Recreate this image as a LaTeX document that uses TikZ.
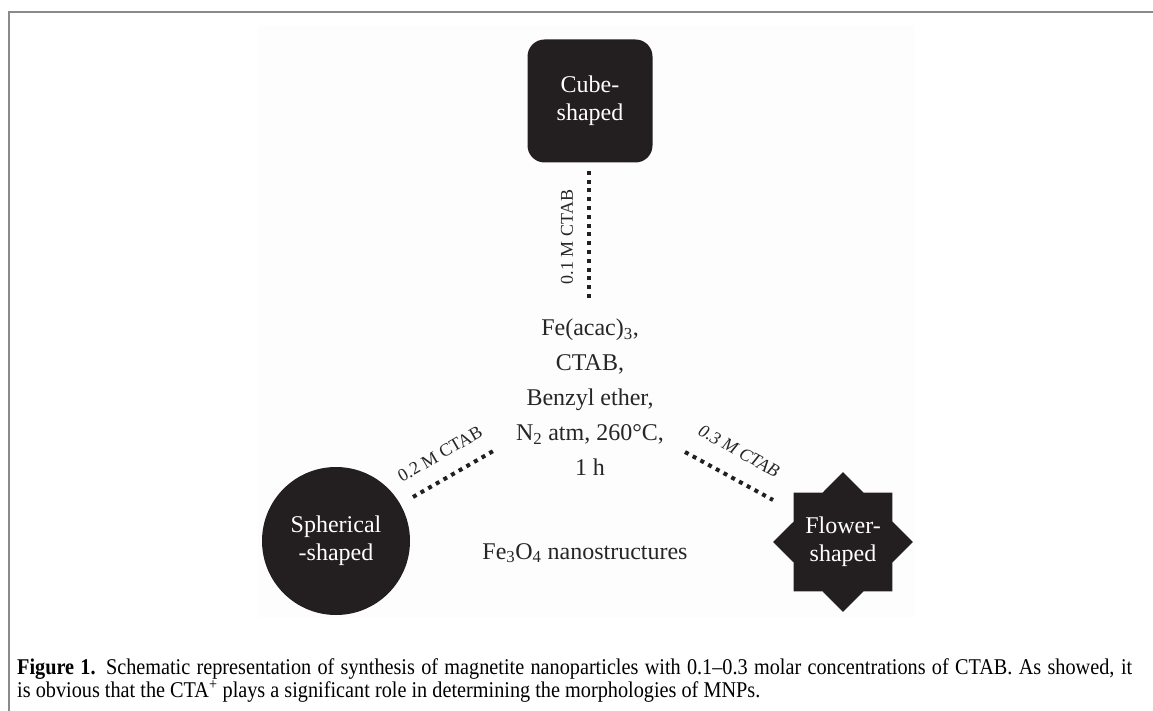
\documentclass[tikz,border=0pt]{standalone}
\usepackage{fontspec}
\setmainfont{Liberation Serif}
\newfontfamily\capfont[FakeStretch=0.9]{Liberation Serif}
\usetikzlibrary{shapes.geometric}

\definecolor{shapefill}{HTML}{231F20}
\definecolor{framegray}{HTML}{8A8A8A}

\begin{document}
\begin{tikzpicture}[x=1pt, y=-1pt,
    shapebox/.style={fill=shapefill, text=white, align=center, inner sep=0pt,
      font=\fontsize{24}{28}\selectfont},
    dotline/.style={draw=shapefill, line width=4pt, dash pattern=on 4pt off 4.8pt},
    conc/.style={inner sep=0pt, text=black!85, font=\fontsize{18}{20}\selectfont},
    reagent/.style={align=center, inner sep=0pt, text=black!85,
      font=\fontsize{24}{35}\selectfont},
    captext/.style={anchor=base west, inner sep=0pt, font=\capfont\fontsize{22.5}{22}\selectfont}]
    \useasboundingbox (0,0) rectangle (1153,711);
    % frame and figure area
    \fill[black!0.6] (258,25) rectangle (915,617);
    \draw[framegray, line width=2pt] (9,711) -- (9,12) -- (1153,12);

    % the three morphologies
    \node[shapebox, rectangle, rounded corners=17pt, minimum width=125pt, minimum height=123pt]
        (cube) at (590,101) {Cube-\\shaped};
    \node[shapebox, circle, minimum size=148pt] (sphere) at (336,541) {Spherical\\-shaped};
    \node[shapebox, star, star points=8, star point ratio=1.31, minimum size=138pt]
        (flower) at (843,542) {Flower-\\shaped};

    % reaction conditions
    \node[reagent] (mix) at (590,397)
        {Fe(acac)\textsubscript{3},\\CTAB,\\Benzyl ether,\\N\textsubscript{2} atm, 260°C,\\1 h};
    \node[reagent] (product) at (585,553) {Fe\textsubscript{3}O\textsubscript{4} nanostructures};

    % dotted links
    \coordinate (c1a) at (589,298);
    \coordinate (c1b) at (589,167);
    \coordinate (c2a) at (413,497);
    \coordinate (c2b) at (495,450);
    \coordinate (c3a) at (685,452);
    \coordinate (c3b) at (773,500);
    \draw[dotline] (c1a) -- (c1b);
    \draw[dotline] (c2a) -- (c2b);
    \draw[dotline] (c3a) -- (c3b);

    \node[conc, rotate=90] (lbl1) at (567,237) {0.1 M CTAB};
    \node[conc, rotate=30] (lbl2) at (440,454) {0.2 M CTAB};
    \node[conc, rotate=-29, font=\fontsize{18}{20}\selectfont\itshape] (lbl3) at (739,451) {0.3 M CTAB};

    % caption
    \node[captext] (cap1) at (17,674)
        {\makebox[1115pt][s]{\textbf{Figure 1.} Schematic representation of synthesis of magnetite nanoparticles with 0.1–0.3 molar concentrations of CTAB. As showed, it}};
    \node[captext] (cap2) at (17,697)
        {is obvious that the CTA\textsuperscript{+} plays a significant role in determining the morphologies of MNPs.};
\end{tikzpicture}
\end{document}
